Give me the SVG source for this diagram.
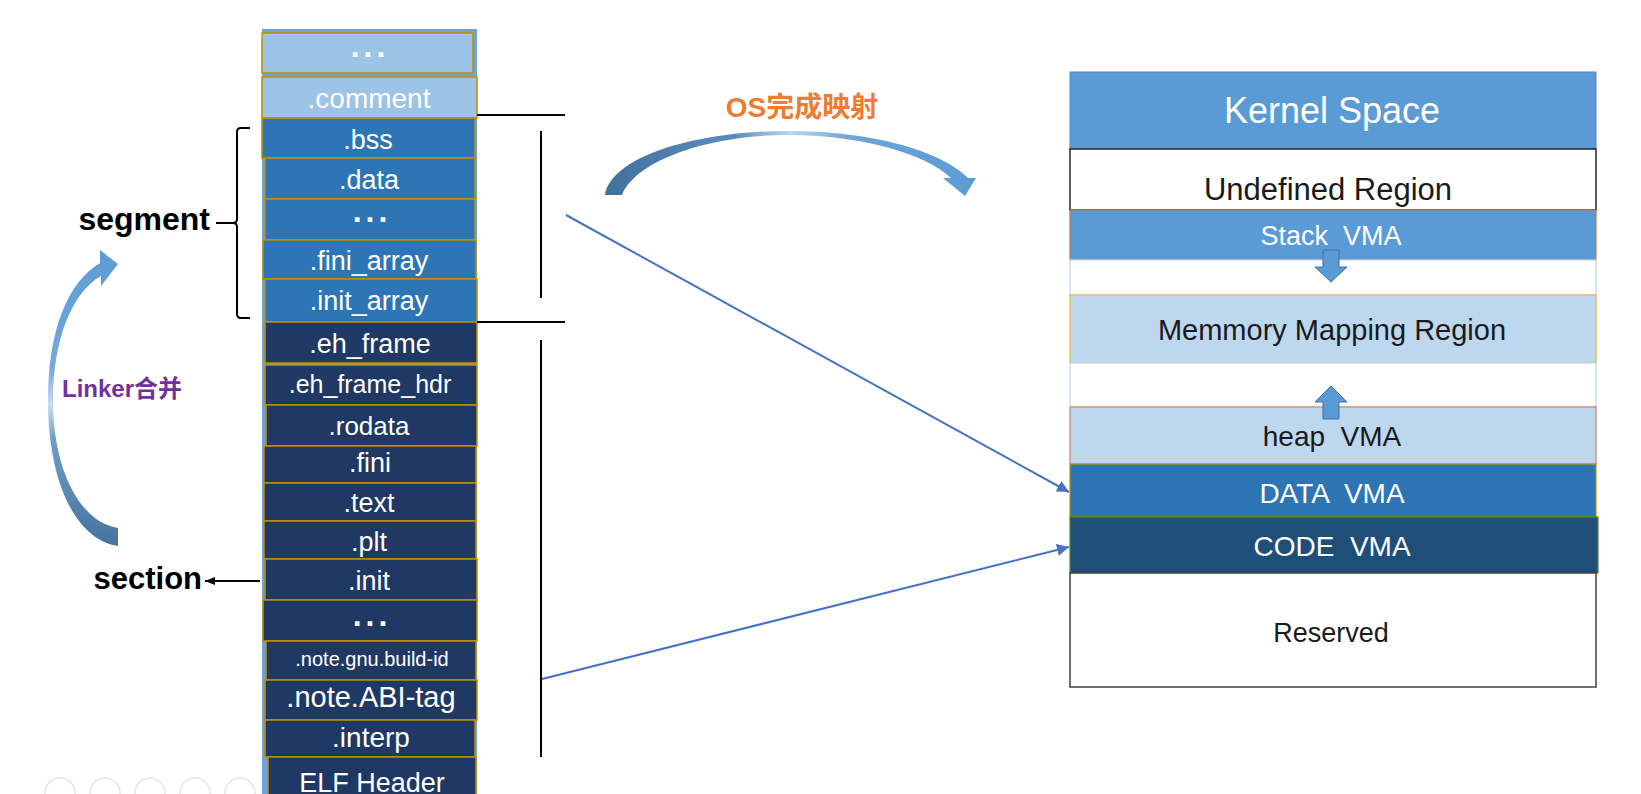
<svg xmlns="http://www.w3.org/2000/svg" width="1641" height="794" viewBox="0 0 1641 794">
<style>
text{font-family:"Liberation Sans",Arial,"Noto Sans CJK SC",sans-serif;text-anchor:middle;white-space:pre}
.lt{fill:#9DC3E6;stroke:#BF9000;stroke-width:1.5}
.md{fill:#2E75B6;stroke:#BF9000;stroke-width:1.5}
.dk{fill:#203864;stroke:#BF9000;stroke-width:1.5}
.st{fill:#fff}
.dots{fill:#fff;font-weight:bold;letter-spacing:4px;font-size:32px}
.blk{stroke:#000;stroke-width:2;fill:none}
.conn{stroke:#4472C4;stroke-width:2;fill:none}
.lbl{fill:#000;font-weight:bold}
.wt{fill:#fff}
.bk{fill:#1a1a1a}
.barrow{fill:#5B9BD5;stroke:#41719C;stroke-width:1}
</style>
<defs>
<marker id="ah" viewBox="0 0 10 10" refX="10" refY="5" markerWidth="6" markerHeight="6" orient="auto" markerUnits="strokeWidth">
<path d="M0,0 L10,5 L0,10 Z" fill="#4472C4"/>
</marker>
<marker id="ahk" viewBox="0 0 10 10" refX="10" refY="5" markerWidth="5" markerHeight="5" orient="auto" markerUnits="strokeWidth">
<path d="M0,1 L10,5 L0,9 Z" fill="#000"/>
</marker>
<linearGradient id="gL" x1="0" y1="250" x2="0" y2="547" gradientUnits="userSpaceOnUse">
<stop offset="0" stop-color="#5B9BD5"/>
<stop offset="0.4" stop-color="#75A9DC"/>
<stop offset="0.52" stop-color="#C9DDF1"/>
<stop offset="0.64" stop-color="#6E9DCB"/>
<stop offset="1" stop-color="#44739F"/>
</linearGradient>
<linearGradient id="gO" x1="605" y1="0" x2="976" y2="0" gradientUnits="userSpaceOnUse">
<stop offset="0" stop-color="#41719C"/>
<stop offset="0.35" stop-color="#5A8CC0"/>
<stop offset="0.5" stop-color="#BFD6EE"/>
<stop offset="0.65" stop-color="#6FA6DA"/>
<stop offset="1" stop-color="#5B9BD5"/>
</linearGradient>
</defs>
<rect width="1641" height="794" fill="#fff"/>

<!-- faint presentation controls (behind) -->
<g id="controls" fill="none" stroke="#E6E6E6" stroke-width="1.5">
<circle cx="60" cy="793" r="15"/>
<circle cx="105" cy="793" r="15"/>
<circle cx="150" cy="793" r="15"/>
<circle cx="195" cy="793" r="15"/>
<circle cx="240" cy="793" r="15"/>
<circle cx="285" cy="793" r="15"/>
</g>

<!-- column background -->
<rect x="262" y="29" width="215" height="770" fill="#6FA3D8"/>

<g id="sec-dots-top"><rect class="lt" x="262" y="33" width="211" height="40"/><text class="dots" x="370" y="57">...</text></g>
<g id="sec-comment"><rect class="lt" x="262" y="77" width="215" height="41"/><text class="st" x="369" y="108" style="font-size:28px">.comment</text></g>
<g id="sec-bss"><rect class="md" x="262" y="118" width="213" height="40"/><text class="st" x="368" y="149" style="font-size:27px">.bss</text></g>
<g id="sec-data"><rect class="md" x="265" y="158" width="210" height="41"/><text class="st" x="369" y="189" style="font-size:27px">.data</text></g>
<g id="sec-dots-mid"><rect class="md" x="265" y="199" width="210" height="41"/><text class="dots" x="372" y="222">...</text></g>
<g id="sec-fini-array"><rect class="md" x="263" y="240" width="213" height="39"/><text class="st" x="369" y="270" style="font-size:27px">.fini_array</text></g>
<g id="sec-init-array"><rect class="md" x="265" y="279" width="212" height="43"/><text class="st" x="369" y="310" style="font-size:27px">.init_array</text></g>
<g id="sec-eh-frame"><rect class="dk" x="265" y="322" width="212" height="41"/><text class="st" x="370" y="353" style="font-size:27px">.eh_frame</text></g>
<g id="sec-eh-frame-hdr"><rect class="dk" x="265" y="365" width="212" height="40"/><text class="st" x="370" y="393" style="font-size:25px">.eh_frame_hdr</text></g>
<g id="sec-rodata"><rect class="dk" x="266" y="405" width="211" height="41"/><text class="st" x="369" y="435" style="font-size:26px">.rodata</text></g>
<g id="sec-fini"><rect class="dk" x="264" y="446" width="212" height="37"/><text class="st" x="370" y="472" style="font-size:27px">.fini</text></g>
<g id="sec-text"><rect class="dk" x="264" y="483" width="212" height="38"/><text class="st" x="369" y="512" style="font-size:27px">.text</text></g>
<g id="sec-plt"><rect class="dk" x="264" y="521" width="212" height="38"/><text class="st" x="369" y="551" style="font-size:27px">.plt</text></g>
<g id="sec-init"><rect class="dk" x="265" y="559" width="212" height="41"/><text class="st" x="369" y="590" style="font-size:27px">.init</text></g>
<g id="sec-dots-low"><rect class="dk" x="263" y="600" width="214" height="41"/><text class="dots" x="372" y="626">...</text></g>
<g id="sec-note-gnu"><rect class="dk" x="266" y="641" width="210" height="39"/><text class="st" x="372" y="666" style="font-size:20px">.note.gnu.build-id</text></g>
<g id="sec-note-abi"><rect class="dk" x="265" y="680" width="212" height="40"/><text class="st" x="371" y="707" style="font-size:29px">.note.ABI-tag</text></g>
<g id="sec-interp"><rect class="dk" x="265" y="720" width="210" height="37"/><text class="st" x="371" y="747" style="font-size:28px">.interp</text></g>
<g id="sec-elf-header"><rect class="dk" x="268" y="757" width="208" height="45"/><text class="st" x="372" y="792" style="font-size:27px">ELF Header</text></g>

<!-- brackets -->
<g id="brackets">
<path class="blk" d="M250,128 L241,128 Q237,128 237,132 L237,219 Q237,223 233,223 L216,223 M233,223 Q237,223 237,227 L237,314 Q237,318 241,318 L250,318"/>
<line class="blk" x1="477" y1="115" x2="565" y2="115"/>
<line class="blk" x1="541" y1="131" x2="541" y2="298"/>
<line class="blk" x1="477" y1="322" x2="565" y2="322"/>
<line class="blk" x1="541" y1="340" x2="541" y2="757"/>
</g>

<g id="label-segment"><text class="lbl" x="210" y="230" style="text-anchor:end;font-size:32px">segment</text></g>
<g id="label-section"><text class="lbl" x="202" y="589" style="text-anchor:end;font-size:31px">section</text></g>

<!-- Linker curved arrow -->
<g id="linker-arrow">
<path fill="url(#gL)" d="M118,546 C76,540 48,482 48,400 C48,330 68,282 100,263 L100,250 L118,264 L101,286 L101,276 C72,292 53,340 53,400 C53,470 80,522 118,528 Z"/>
<text x="122" y="397" style="font-size:24px;font-weight:bold" fill="#7030A0">Linker合并</text>
</g>

<!-- OS curved arrow -->
<g id="os-arrow">
<path fill="url(#gO)" d="M605,195 C612,155 700,131 787,131 C870,131 940,150 968,178 L976,178 L965,196 L943,178 L951,178 C925,153 860,135 787,135 C710,135 636,160 622,195 Z"/>
<text x="802" y="117" style="font-size:28px;font-weight:bold" fill="#ED7D31">OS完成映射</text>
</g>

<!-- right panel -->
<g id="vma-kernel"><rect x="1070" y="72" width="526" height="77" fill="#5B9BD5" stroke="#4F8BC6" stroke-width="1"/><text class="wt" x="1332" y="123" style="font-size:36px">Kernel Space</text></g>
<g id="vma-undefined"><rect x="1070" y="149" width="526" height="61" fill="#fff" stroke="#262626" stroke-width="1.5"/><text class="bk" x="1328" y="200" style="font-size:31px">Undefined Region</text></g>
<g id="vma-stack"><rect x="1070" y="210" width="526" height="50" fill="#5B9BD5" stroke="#C0784A" stroke-width="1.2"/><text class="wt" x="1331" y="245" style="font-size:27px">Stack  VMA</text></g>
<g id="gap-1"><rect x="1070" y="260" width="526" height="35" fill="#fff" stroke="#BDD7EE" stroke-width="1.2"/></g>
<g id="vma-mmap"><rect x="1070" y="295" width="526" height="68" fill="#BDD7EE" stroke="#E8C060" stroke-width="1.5"/><text class="bk" x="1332" y="340" style="font-size:29px">Memmory Mapping Region</text></g>
<g id="gap-2"><rect x="1070" y="363" width="526" height="44" fill="#fff" stroke="#BDD7EE" stroke-width="1.2"/></g>
<g id="vma-heap"><rect x="1070" y="407" width="526" height="57" fill="#BDD7EE" stroke="#D08660" stroke-width="1.2"/><text class="bk" x="1332" y="446" style="font-size:28px">heap  VMA</text></g>
<g id="vma-data"><rect x="1070" y="464" width="526" height="53" fill="#2E75B6" stroke="#BF9000" stroke-width="1.2"/><text class="wt" x="1332" y="503" style="font-size:28px">DATA  VMA</text></g>
<g id="vma-code"><rect x="1070" y="517" width="528" height="56" fill="#1F4E79" stroke="#548235" stroke-width="1.2"/><text class="wt" x="1332" y="556" style="font-size:28px">CODE  VMA</text></g>
<g id="vma-reserved"><rect x="1070" y="573" width="526" height="114" fill="#fff" stroke="#404040" stroke-width="1.5"/><text class="bk" x="1331" y="642" style="font-size:27px">Reserved</text></g>

<g id="stack-grow"><path class="barrow" d="M1323,250 L1339,250 L1339,267 L1347,267 L1331,282 L1315,267 L1323,267 Z"/></g>
<g id="heap-grow"><path class="barrow" d="M1323,419 L1339,419 L1339,402 L1347,402 L1331,386 L1315,402 L1323,402 Z"/></g>

<!-- connectors -->
<g id="connectors">
<line class="conn" x1="566" y1="215" x2="1069" y2="492" marker-end="url(#ah)"/>
<line class="conn" x1="542" y1="679" x2="1069" y2="547" marker-end="url(#ah)"/>
<line x1="260" y1="581" x2="205" y2="581" stroke="#000" stroke-width="2" marker-end="url(#ahk)"/>
</g>
</svg>
